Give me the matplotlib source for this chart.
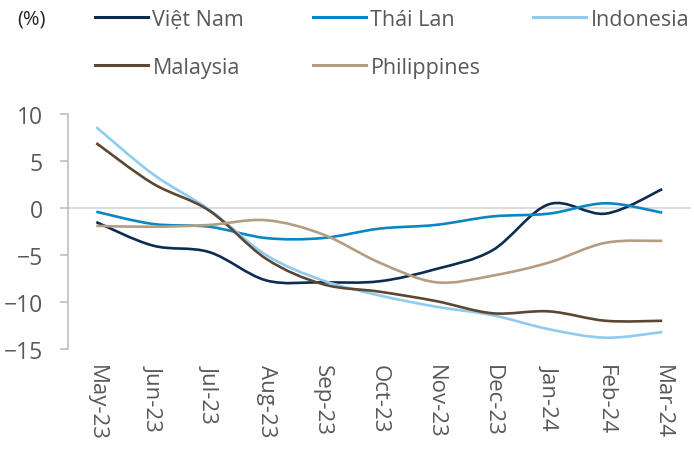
import numpy as np
import matplotlib
matplotlib.use("Agg")
import matplotlib.pyplot as plt
from matplotlib.path import Path
from matplotlib.patches import PathPatch
from matplotlib.lines import Line2D

plt.rcParams['font.family'] = ['Open Sans', 'DejaVu Sans']

months = ['May-23', 'Jun-23', 'Jul-23', 'Aug-23', 'Sep-23', 'Oct-23',
          'Nov-23', 'Dec-23', 'Jan-24', 'Feb-24', 'Mar-24']

viet_nam = [-1.5, -4.0, -4.7, -7.7, -7.9, -7.8, -6.5, -4.5, 0.4, -0.6, 2.0]
thai_lan = [-0.4, -1.7, -2.0, -3.2, -3.2, -2.2, -1.8, -0.9, -0.6, 0.5, -0.5]
indonesia = [8.6, 3.6, -0.2, -5.0, -7.7, -9.3, -10.5, -11.4, -12.9, -13.8, -13.2]
malaysia = [6.9, 2.6, -0.3, -5.4, -8.1, -8.9, -9.9, -11.2, -11.0, -12.0, -12.0]
philippines = [-1.9, -2.0, -1.8, -1.3, -2.8, -5.8, -7.9, -7.2, -5.8, -3.7, -3.5]

names = ['Việt Nam', 'Thái Lan', 'Indonesia', 'Malaysia', 'Philippines']
series = [viet_nam, thai_lan, indonesia, malaysia, philippines]
colors = ['#0c2c52', '#0a87c2', '#8fcbee', '#5b4733', '#b59d83']


def smooth_path(x, y):
    # excel-style smoothed line: cubic bezier through each point
    pts = np.column_stack([x, y]).astype(float)
    n = len(pts)
    verts = [pts[0]]
    codes = [Path.MOVETO]
    for i in range(n - 1):
        p0 = pts[i - 1] if i > 0 else pts[i]
        p1 = pts[i]
        p2 = pts[i + 1]
        p3 = pts[i + 2] if i + 2 < n else pts[i + 1]
        c1 = p1 + (p2 - p0) / 6.0
        c2 = p2 - (p3 - p1) / 6.0
        verts += [c1, c2, p2]
        codes += [Path.CURVE4] * 3
    return Path(verts, codes)


fig = plt.figure(figsize=(6.94, 4.52), dpi=100)
ax = fig.add_axes([0.098, 0.2257, 0.897, 0.5199])

xs = np.arange(len(months))
for vals, c in zip(series, colors):
    ax.add_patch(PathPatch(smooth_path(xs, vals), fill=False, edgecolor=c,
                           lw=1.9, capstyle='butt', zorder=3))

ax.axhline(0, color='#d9d9d9', lw=1.3, zorder=1)
ax.set_xlim(-0.5, len(months) - 0.5)
ax.set_ylim(-15, 10)
ax.set_yticks([10, 5, 0, -5, -10, -15])
ax.set_xticks(xs)
ax.set_xticklabels(months, rotation=-90)

for s in ['top', 'right', 'bottom']:
    ax.spines[s].set_visible(False)
ax.spines['left'].set_color('#bfbfbf')
ax.spines['left'].set_linewidth(1.2)
ax.tick_params(axis='y', direction='out', length=6, width=1.2, color='#bfbfbf',
               labelsize=16.5, labelcolor='#595959', pad=12)
ax.tick_params(axis='x', length=0, labelsize=16, labelcolor='#595959', pad=11)

fig.text(17 / 694, 1 - 19 / 452, '(%)', fontsize=14.5, color='#262626', va='center')

handles = [Line2D([], [], color=c, lw=2.2) for c in colors]
cols = [([0, 3], 95), ([1, 4], 313), ([2], 533)]
for idx, xpix in cols:
    leg = fig.legend([handles[i] for i in idx], [names[i] for i in idx],
                     loc='upper left', bbox_to_anchor=(xpix / 694, 1 - 10 / 452),
                     frameon=False, fontsize=15.5, handlelength=2.45,
                     handletextpad=0.22, labelspacing=1.25, borderpad=0,
                     borderaxespad=0, labelcolor='#595959')

fig.savefig('out.png', dpi=100)
